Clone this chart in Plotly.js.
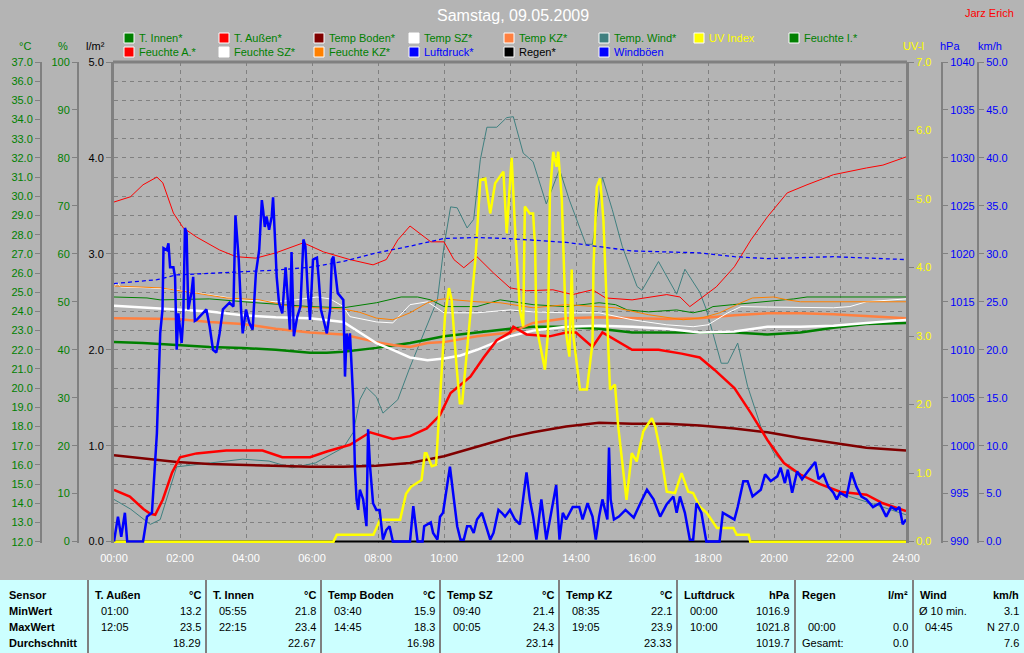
<!DOCTYPE html>
<html><head><meta charset="utf-8">
<script src="https://cdn.plot.ly/plotly-3.0.1.min.js"></script>
<style>html,body{margin:0;padding:0;background:#b4b4b4;}#chart{width:1024px;height:653px;}</style>
</head><body><div id="chart"></div>
<script>
// ---------------- DATA (hours of day, values) ----------------
const hourTicks = [0,2,4,6,8,10,12,14,16,18,20,22,24];
const hourLabels = ["00:00","02:00","04:00","06:00","08:00","10:00","12:00","14:00","16:00","18:00","20:00","22:00","24:00"];

// T. Außen (°C)
const tAussenT = [0,0.48,0.89,1.1,1.25,1.48,1.76,2.0,2.5,3.4,4.5,5.1,5.5,5.94,6.45,7.15,7.76,8.45,8.97,9.48,9.88,10.2,10.8,11.2,11.6,12.0,12.1,12.5,13.2,13.7,14.0,14.5,14.8,15.7,16.5,17.2,17.75,18.2,18.8,19.3,19.8,20.3,20.8,21.4,22.0,22.8,23.3,24.0];
const tAussenV = [14.7,14.35,13.7,13.45,13.4,14.2,15.6,16.4,16.6,16.75,16.75,16.4,16.4,16.4,16.7,17.05,17.7,17.35,17.5,17.9,18.6,19.75,20.6,21.6,22.5,22.9,23.2,22.8,22.7,22.9,22.9,22.15,22.9,22.0,22.0,21.8,21.6,20.95,20.0,18.7,17.3,16.1,15.5,15.0,14.6,14.45,14.0,13.6];

// T. Innen (°C)
const tInnenT = [0,0.88,1.9,2.9,3.9,4.9,5.94,6.45,6.95,7.95,8.97,10.0,11.0,12.0,12.7,13.7,14.7,15.7,16.75,17.75,18.8,19.8,20.8,21.8,22.8,24];
const tInnenV = [22.4,22.35,22.25,22.15,22.1,22.0,21.85,21.85,21.9,22.1,22.35,22.7,22.9,23.1,23.2,23.2,23.1,22.9,22.9,22.9,22.9,22.8,22.9,23.15,23.35,23.4];

// Temp Boden (°C)
const tBodenT = [0,0.88,1.9,2.9,3.9,4.9,5.94,6.95,7.95,8.97,10.0,11.0,12.0,12.7,13.7,14.7,15.7,16.75,17.75,18.8,19.8,20.8,21.8,22.8,24];
const tBodenV = [16.5,16.35,16.15,16.05,16.0,15.95,15.9,15.9,15.95,16.1,16.45,16.95,17.45,17.7,18.0,18.2,18.15,18.15,18.05,17.9,17.7,17.4,17.15,16.9,16.75];

// Temp SZ (°C)
const tSZT = [0,0.88,1.9,2.9,3.9,4.9,5.94,6.95,7.45,7.95,8.45,8.97,9.5,10.0,10.5,11.0,11.5,12.0,12.7,13.7,14.7,15.7,16.75,17.75,18.8,19.8,20.8,21.8,22.8,24];
const tSZV = [24.3,24.2,24.1,24.0,23.8,23.7,23.65,23.45,22.9,22.35,22.0,21.6,21.45,21.55,21.7,22.0,22.35,22.7,23.0,23.2,23.25,23.2,23.1,22.9,22.95,23.2,23.2,23.25,23.4,23.55];

// Temp KZ (°C)
const tKZT = [0,1.9,2.9,3.9,4.9,5.94,6.95,7.95,8.45,8.97,9.5,10.0,11.0,12.0,12.7,13.7,14.7,15.7,16.75,17.75,18.8,19.8,20.8,21.8,22.8,24];
const tKZV = [23.65,23.6,23.45,23.35,23.1,22.9,22.8,22.4,22.25,22.15,22.35,22.4,22.7,22.9,23.4,23.65,23.7,23.65,23.6,23.65,23.8,23.9,23.9,23.85,23.75,23.65];

// Temp. Wind (°C)
const tWindT = [0,0.5,1.1,1.4,1.9,2.9,3.9,4.7,5.4,6.1,6.95,7.25,7.45,7.65,7.95,8.15,8.6,8.97,9.4,9.8,10.0,10.2,10.4,10.7,10.9,11.1,11.3,11.6,11.9,12.1,12.4,12.7,13.1,13.5,13.8,14.3,14.5,14.8,15.1,15.4,15.85,16.0,16.5,17.05,17.3,17.75,17.95,18.4,18.6,18.9,19.2,19.6,20.0,20.5,21.3,22.3,23.3,24.0];
const tWindV = [14.2,13.7,12.9,13.15,15.9,16.1,16.3,16.2,15.85,16.1,16.9,17.7,19.4,20.05,19.55,18.7,19.4,21.1,22.9,24.6,27.4,29.45,29.4,28.35,28.8,31.9,33.6,33.6,34.1,34.15,32.25,31.8,29.6,31.4,29.8,27.5,27.5,31.0,29.3,27.4,25.3,25.1,26.6,24.9,26.2,25.0,24.1,21.3,21.3,22.35,20.1,18.0,16.6,15.75,15.1,14.35,13.8,13.4];

// UV Index
const uvT = [0,6.65,6.75,7.86,8.06,8.67,8.85,9.0,9.32,9.42,9.47,9.63,9.76,9.88,10.03,10.15,10.23,10.38,10.48,10.55,10.74,10.84,10.95,11.1,11.25,11.4,11.55,11.8,11.9,12.05,12.15,12.3,12.4,12.45,12.6,12.7,12.76,12.8,13.06,13.15,13.21,13.31,13.41,13.46,13.57,13.7,13.8,13.87,13.92,14.12,14.33,14.5,14.53,14.63,14.73,14.83,14.93,15.03,15.18,15.28,15.53,15.69,15.84,16.04,16.3,16.4,16.55,16.75,17.0,17.2,17.4,17.55,17.75,17.96,18.27,18.77,18.87,19.23,19.28,24];
const uvV = [0,0,0.1,0.1,0.32,0.32,0.7,0.8,0.9,1.29,1.29,1.1,1.12,2.07,3.29,3.7,3.53,2.56,2.02,2.02,3.04,3.53,4.11,5.28,5.3,4.79,5.23,5.4,4.5,5.6,4.6,3.38,3.14,4.89,4.79,4.79,4.31,3.14,2.51,3.04,5.08,5.69,5.47,5.69,4.99,3.04,2.7,3.97,3.0,2.22,2.22,2.9,4.01,5.18,5.3,4.7,3.53,2.22,2.29,1.68,0.61,1.29,1.17,1.61,1.8,1.68,1.34,0.73,0.71,1.0,0.73,0.71,0.51,0.42,0.2,0.2,0.1,0.1,0,0];

// Feuchte (%)
const fIT = [0,1.0,1.4,2.9,4.3,5.94,6.95,7.95,8.7,9.2,9.6,10.0,11.0,11.7,12.7,13.7,14.7,15.2,15.55,16.2,17.05,17.55,17.95,18.15,18.75,19.8,20.6,21.0,22.3,24];
const fIV = [51.0,50.8,50.4,50.6,49.8,49.0,48.75,49.8,51.0,51.0,50.4,49.0,49.0,50.4,49.4,49.0,49.8,49.4,48.3,47.9,48.3,47.7,48.3,49.0,49.4,50.0,50.6,51.0,51.0,51.0];
const fAT = [0,0.5,0.88,1.3,1.48,1.8,2.1,2.5,3.2,3.7,4.3,4.9,5.74,6.35,7.15,7.85,8.25,8.6,8.97,9.4,9.6,10.0,10.3,10.6,11.0,11.5,12.0,12.5,13.3,13.9,14.5,14.9,15.7,16.75,17.15,17.45,17.85,18.25,18.8,19.3,19.8,20.4,21.0,21.8,22.8,23.3,24];
const fAV = [70.8,71.9,74.4,76.0,74.8,68.5,65.4,63.5,60.8,59.4,59.1,60.2,62.3,60.4,58.8,57.7,58.8,62.9,65.8,63.5,62.5,62.5,58.8,57.1,59.4,56.0,52.9,52.3,52.5,51.5,52.5,50.8,50.4,51.5,51.0,49.0,51.0,53.1,57.3,62.9,67.7,72.7,74.4,76.5,77.9,78.5,80.2];
const fSZT = [0,0.1,0.2,1.1,1.9,2.9,3.9,4.9,5.5,6.15,6.55,6.95,7.15,7.95,8.45,8.97,9.5,10.0,11.0,12.0,12.7,13.7,14.7,15.7,16.75,17.55,18.0,18.6,19.0,19.8,20.8,21.8,22.3,22.8,24];
const fSZV = [53.1,54.0,53.1,52.9,52.5,51.5,50.4,50.0,50.4,51.0,50.6,49.0,46.9,45.8,45.6,49.4,50.0,47.7,47.7,48.3,47.9,47.7,47.7,46.25,45.2,44.8,45.2,47.7,49.0,48.9,48.75,48.75,49.0,50.0,50.6];
const fKZT = [0,1.4,2.4,3.4,4.4,5.4,6.15,6.95,7.45,7.95,8.45,8.97,9.5,9.8,10.0,11.0,11.7,12.7,13.7,15.2,16.2,17.25,17.85,18.35,19.0,19.35,20.0,20.4,20.8,24];
const fKZV = [53.3,52.9,51.9,50.8,50.4,49.0,48.75,48.5,47.8,46.6,46.25,47.7,49.8,50.4,50.6,50.0,49.8,48.75,49.4,48.75,47.3,46.25,46.7,47.7,49.8,50.8,51.0,50.4,50.0,50.0];

// Luftdruck (hPa)
const druckT = [0,1.3,1.9,3.9,4.9,5.94,6.95,7.95,8.97,10.0,11.0,11.9,13.7,15.7,17.75,18.8,19.8,21.8,23.3,24];
const druckV = [1016.9,1017.3,1017.8,1018.1,1018.3,1018.6,1019.2,1020.1,1020.8,1021.6,1021.7,1021.6,1021.2,1020.3,1020.1,1019.7,1019.5,1019.7,1019.5,1019.4];

// Regen (l/m²)
const regenT = [0,24];
const regenV = [0,0];

// Windböen (km/h)
const boeT = [0,0.12,0.22,0.33,0.4,0.88,1.0,1.15,1.3,1.4,1.47,1.5,1.6,1.65,1.7,1.8,1.85,1.9,1.95,2.05,2.1,2.15,2.2,2.25,2.35,2.4,2.45,2.5,2.8,2.9,3.0,3.1,3.2,3.3,3.5,3.62,3.68,3.72,3.78,3.85,3.9,4.0,4.1,4.2,4.3,4.4,4.48,4.52,4.57,4.62,4.7,4.78,4.82,4.88,4.93,5.0,5.1,5.2,5.27,5.33,5.38,5.45,5.55,5.65,5.74,5.8,5.87,5.94,6.03,6.15,6.2,6.27,6.35,6.45,6.55,6.6,6.65,6.7,6.78,6.95,7.0,7.05,7.1,7.15,7.25,7.3,7.35,7.4,7.45,7.55,7.65,7.7,7.76,7.85,7.95,8.05,8.15,8.25,8.35,8.45,8.97,9.07,9.2,9.35,9.4,9.6,9.67,9.8,9.88,9.97,10.08,10.18,10.3,10.4,10.5,10.6,10.7,10.8,10.9,11.0,11.15,11.3,11.4,11.5,11.65,11.75,11.85,12.0,12.15,12.3,12.5,12.6,12.7,12.8,12.95,13.1,13.25,13.4,13.5,13.6,13.7,13.9,14.1,14.2,14.35,14.5,14.6,14.7,14.8,14.95,15.0,15.05,15.15,15.3,15.5,15.75,15.95,16.15,16.35,16.55,16.75,16.95,17.05,17.15,17.3,17.45,17.55,17.65,17.8,17.95,18.35,18.45,18.65,18.8,18.9,19.07,19.2,19.35,19.6,19.73,19.9,20.1,20.2,20.33,20.42,20.55,20.7,20.85,21.0,21.15,21.25,21.35,21.5,21.65,21.8,21.9,22.0,22.2,22.35,22.5,22.65,22.8,23.0,23.2,23.4,23.55,23.7,23.8,23.9,24.0];
const boeV = [0,2.6,0.5,3.0,0,0,2.6,3.0,11.3,21.7,24.2,30.6,30.4,31.1,28.6,28.6,27.6,20.0,23.8,20.7,23.4,32.7,32.2,24.2,26.0,27.6,23.0,23.1,24.2,22.4,20.0,19.7,21.7,24.2,24.9,24.5,34.0,32.3,29.4,24.2,21.7,24.2,22.8,22.1,28.0,30.4,35.6,34.5,32.8,33.9,32.5,33.9,35.9,31.5,27.6,24.9,23.8,28.6,24.5,22.1,30.2,21.4,23.4,24.5,31.5,30.8,26.2,23.1,29.4,29.6,27.6,24.2,23.1,21.7,24.2,29.4,29.7,28.0,25.9,25.2,17.2,21.7,20.0,21.7,14.8,7.8,4.4,3.3,5.4,4.4,1.6,11.7,7.8,4.0,3.3,3.3,0.2,1.2,1.6,0,0,3.7,0,0,1.6,2.0,0.9,0.2,2.6,3.0,5.7,7.8,4.4,1.6,0.2,0.2,1.6,1.6,0.9,2.3,3.0,1.2,0.2,0.9,3.3,3.0,2.6,3.3,2.3,1.8,7.2,4.4,2.6,0.2,4.4,0.2,3.0,5.9,0.2,3.0,2.3,3.6,3.6,2.3,4.0,2.6,0.2,2.6,4.4,2.3,9.8,4.4,2.3,2.6,3.3,2.5,4.0,5.4,4.4,2.6,3.9,4.7,3.0,4.7,3.0,0.2,0.2,4.0,3.0,0,0,3.0,2.6,2.3,3.6,6.3,6.3,4.7,5.4,7.0,6.3,6.8,7.7,6.1,7.5,5.1,7.3,6.5,7.2,7.8,8.3,6.5,7.0,5.7,5.1,4.4,5.1,4.7,7.2,5.7,4.7,4.4,3.6,4.0,2.6,3.6,3.3,3.6,1.8,2.3];

// Legend entries and table texts
const legendRow1 = ["T. Innen*","T. Außen*","Temp Boden*","Temp SZ*","Temp KZ*","Temp. Wind*","UV Index","Feuchte I.*"];
const legendRow1Box = ["#008000","#ff0000","#800000","#ffffff","#ff8040","#408080","#ffff00","#008000"];
const legendRow1Txt = ["#008000","#008000","#008000","#008000","#008000","#008000","#ffff00","#008000"];
const legendRow2 = ["Feuchte A.*","Feuchte SZ*","Feuchte KZ*","Luftdruck*","Regen*","Windböen"];
const legendRow2Box = ["#ff0000","#ffffff","#ff8000","#0000ff","#000000","#0000ff"];
const legendRow2Txt = ["#008000","#008000","#008000","#0000ff","#000000","#0000ff"];

const tblSensors = ["T. Außen","T. Innen","Temp Boden","Temp SZ","Temp KZ","Luftdruck","Regen","Wind"];
const tblUnits   = ["°C","°C","°C","°C","°C","hPa","l/m²","km/h"];
const tblMinTime = ["01:00","05:55","03:40","09:40","08:35","00:00","","Ø 10 min."];
const tblMinVal  = ["13.2","21.8","15.9","21.4","22.1","1016.9","","3.1"];
const tblMaxTime = ["12:05","22:15","14:45","00:05","19:05","10:00","00:00","04:45"];
const tblMaxVal  = ["23.5","23.4","18.3","24.3","23.9","1021.8","0.0","N 27.0"];
const tblAvgLbl  = ["","","","","","","Gesamt:",""];
const tblAvgVal  = ["18.29","22.67","16.98","23.14","23.33","1019.7","0.0","7.6"];
const tblRowNames = ["Sensor","MinWert","MaxWert","Durchschnitt"];

// ---------------- LAYOUT HELPERS ----------------
const W = 1024, H = 653;
const px = x => x / W;
const py = y => 1 - y / H;
const FONT = "Liberation Sans, Arial, sans-serif";
const GRAY = "#808080";

function line(t, v, color, width, axis, dash) {
  return {x: t, y: v, type: "scatter", mode: "lines", yaxis: axis,
    line: {color: color, width: width, dash: dash || "solid"}, hoverinfo: "skip"};
}

const traces = [
  line(fIT, fIV, "#008000", 1, "y3"),
  line(fAT, fAV, "#ff0000", 1, "y3"),
  line(fSZT, fSZV, "#ffffff", 1, "y3"),
  line(fKZT, fKZV, "#ff8000", 1, "y3"),
  line(tWindT, tWindV, "#408080", 1, "y2"),
  line(druckT, druckV, "#0000ff", 1.3, "y5", "4px,3px"),
  line(tBodenT, tBodenV, "#800000", 2.5, "y2"),
  line(tInnenT, tInnenV, "#008000", 2.5, "y2"),
  line(tKZT, tKZV, "#ff8040", 2.5, "y2"),
  line(tSZT, tSZV, "#ffffff", 2.5, "y2"),
  line(tAussenT, tAussenV, "#ff0000", 2.5, "y2"),
  line(boeT, boeV, "#0000ff", 2.5, "y6"),
  line(regenT, regenV, "#000000", 2, "y"),
  line(uvT, uvV, "#ffff00", 2.5, "y4")
];

const baseAxis = (color, fmt) => ({
  showline: true, linecolor: GRAY, linewidth: 2, ticks: "outside", ticklen: 5,
  tickcolor: GRAY, tickwidth: 1, showgrid: false, zeroline: false, fixedrange: true,
  tickfont: {family: FONT, size: 11, color: color}, tickformat: fmt
});

const xDom = [px(114), px(906)];
const yDom = [py(543), py(62)];

const annotations = [];
const shapes = [];
function txt(x, y, s, color, size, anchor, bold) {
  annotations.push({xref: "paper", yref: "paper", x: px(x), y: py(y), text: bold ? "<b>" + s + "</b>" : s,
    showarrow: false, xanchor: anchor || "left", yanchor: "middle",
    font: {family: FONT, size: size || 11, color: color}, borderpad: 0});
}

// Title and author
txt(513, 15, "Samstag, 09.05.2009", "#ffffff", 16, "center");
txt(1015, 13, "Jarz Erich", "#ff0000", 11, "right");

// Axis headers
txt(25, 46, "°C", "#008000", 11, "center");
txt(63, 46, "%", "#008000", 11, "center");
txt(95, 46, "l/m²", "#000000", 11, "center");
txt(913, 46, "UV-I", "#ffff00", 11, "center");
txt(950, 46, "hPa", "#0000ff", 11, "center");
txt(990, 46, "km/h", "#0000ff", 11, "center");

// Legend
legendRow1.forEach((s, i) => {
  const x0 = 124 + 95 * i;
  shapes.push({type: "rect", xref: "paper", yref: "paper", x0: px(x0), x1: px(x0 + 10), y0: py(43), y1: py(33),
    fillcolor: legendRow1Box[i], line: {color: "#ffffff", width: 1}});
  txt(x0 + 14, 38, s, legendRow1Txt[i], 11, "left");
});
legendRow2.forEach((s, i) => {
  const x0 = 124 + 95 * i;
  shapes.push({type: "rect", xref: "paper", yref: "paper", x0: px(x0), x1: px(x0 + 10), y0: py(57), y1: py(47),
    fillcolor: legendRow2Box[i], line: {color: "#ffffff", width: 1}});
  txt(x0 + 14, 52, s, legendRow2Txt[i], 11, "left");
});

// Plot top border
shapes.push({type: "line", xref: "paper", yref: "paper", x0: px(113), x1: px(907), y0: py(62), y1: py(62),
  line: {color: GRAY, width: 3}});

// Table
shapes.push({type: "rect", xref: "paper", yref: "paper", x0: 0, x1: 1, y0: 0, y1: py(580),
  fillcolor: "#ccffff", line: {width: 0}, layer: "below"});
const seps = [88, 206, 321, 440, 559, 677, 795, 913, 1024];
seps.slice(0, 8).forEach(s => shapes.push({type: "line", xref: "paper", yref: "paper", x0: px(s), x1: px(s),
  y0: 0, y1: py(580), line: {color: GRAY, width: 2}}));
const rowsY = [595, 611, 627, 643];
tblRowNames.forEach((r, i) => txt(8, rowsY[i], r, "#000000", 11, "left", true));
tblSensors.forEach((s, i) => {
  const l = seps[i], r = seps[i + 1];
  txt(l + 6, rowsY[0], s, "#000000", 11, "left", true);
  txt(r - 4, rowsY[0], tblUnits[i], "#000000", 11, "right", true);
  const tx = (i === 7) ? l + 5 : l + 12;
  if (tblMinTime[i]) txt(i === 7 ? l + 5 : tx, rowsY[1], tblMinTime[i], "#000000", 11, "left");
  if (tblMinVal[i]) txt(r - 4, rowsY[1], tblMinVal[i], "#000000", 11, "right");
  txt(i === 7 ? l + 11 : tx, rowsY[2], tblMaxTime[i], "#000000", 11, "left");
  txt(r - 4, rowsY[2], tblMaxVal[i], "#000000", 11, "right");
  if (tblAvgLbl[i]) txt(l + 6, rowsY[3], tblAvgLbl[i], "#000000", 11, "left");
  txt(r - 4, rowsY[3], tblAvgVal[i], "#000000", 11, "right");
});

const layout = {
  width: W, height: H, margin: {l: 0, r: 0, t: 0, b: 0, pad: 0},
  paper_bgcolor: "#b4b4b4", plot_bgcolor: "#b4b4b4",
  showlegend: false, hovermode: false,
  xaxis: {domain: xDom, range: [0, 24], tickvals: hourTicks, ticktext: hourLabels, ticks: "",
    showgrid: true, gridcolor: GRAY, griddash: "4px,4px", gridwidth: 1, zeroline: false, showline: false,
    tickfont: {family: FONT, size: 11, color: "#ffffff"}, fixedrange: true, anchor: "y", ticklabelstandoff: 7},
  yaxis: Object.assign(baseAxis("#000000", ".1f"), {domain: yDom, range: [-0.015, 5], dtick: 1, tick0: 0,
    anchor: "x", side: "left", linewidth: 3}),
  yaxis2: Object.assign(baseAxis("#008000", ".1f"), {range: [11.93, 37], dtick: 1, tick0: 12, overlaying: "y",
    anchor: "free", position: px(41), side: "left", showgrid: true, gridcolor: GRAY, griddash: "4px,4px", gridwidth: 1}),
  yaxis3: Object.assign(baseAxis("#008000", "d"), {range: [-0.3, 100], dtick: 10, tick0: 0, overlaying: "y",
    anchor: "free", position: px(78), side: "left"}),
  yaxis4: Object.assign(baseAxis("#ffff00", ".1f"), {range: [-0.02, 7], dtick: 1, tick0: 0, overlaying: "y",
    anchor: "x", side: "right", linewidth: 3}),
  yaxis5: Object.assign(baseAxis("#0000ff", "d"), {range: [989.85, 1040], dtick: 5, tick0: 990, overlaying: "y",
    anchor: "free", position: px(942), side: "right"}),
  yaxis6: Object.assign(baseAxis("#0000ff", ".1f"), {range: [-0.15, 50], dtick: 5, tick0: 0, overlaying: "y",
    anchor: "free", position: px(978), side: "right"}),
  annotations: annotations, shapes: shapes
};

Plotly.newPlot("chart", traces, layout, {displayModeBar: false, staticPlot: true});
</script></body></html>
